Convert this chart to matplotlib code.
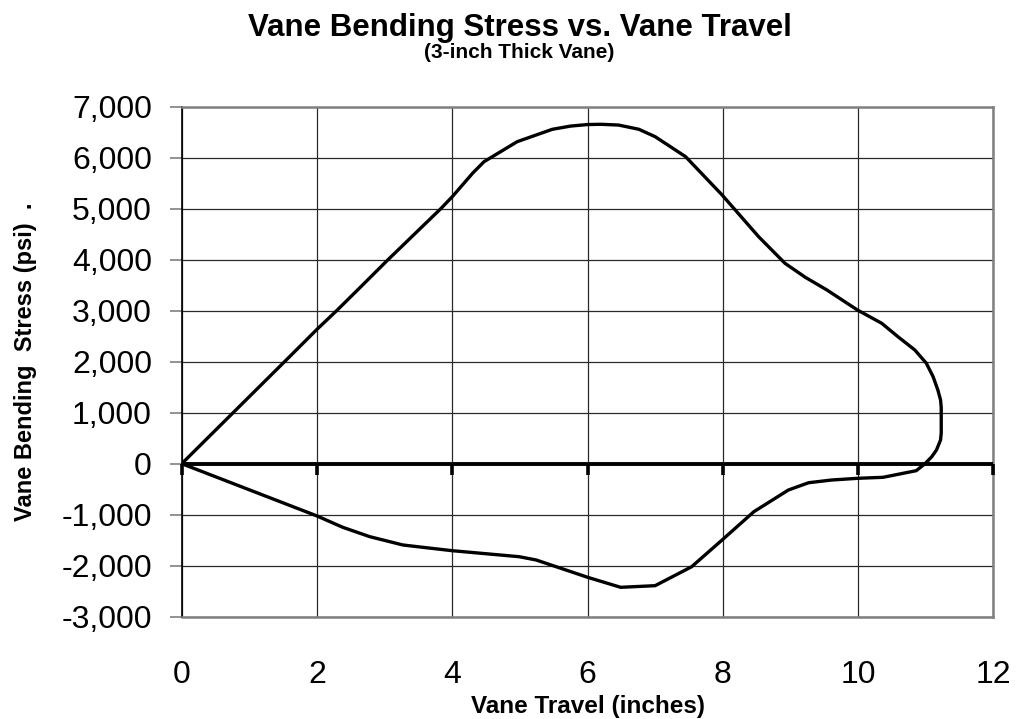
import matplotlib
matplotlib.use("Agg")
import matplotlib.pyplot as plt
from matplotlib.ticker import FuncFormatter, FixedLocator
from matplotlib.markers import TICKDOWN

plt.rcParams['font.family'] = ['Liberation Sans', 'DejaVu Sans']
plt.rcParams['axes.unicode_minus'] = False

title = "Vane Bending Stress vs. Vane Travel"
subtitle = "(3-inch Thick Vane)"
x_label = "Vane Travel (inches)"
y_label = "Vane Bending  Stress (psi)  ."

x_ticks = [0, 2, 4, 6, 8, 10, 12]
y_ticks = [-3000, -2000, -1000, 0, 1000, 2000, 3000, 4000, 5000, 6000, 7000]

# closed loop: loading branch (upper) then unloading branch (lower)
travel_in = [0.0, 0.76, 1.52, 2.0, 2.29, 2.60, 3.05, 3.83, 4.0, 4.30, 4.47, 4.96,
             5.48, 5.75, 6.0, 6.2, 6.46, 6.76, 7.0, 7.45, 7.99, 8.53, 8.92, 9.22,
             9.54, 9.99, 10.35, 10.59, 10.84, 11.01, 11.11, 11.18, 11.22, 11.23,
             11.23, 11.22, 11.16, 11.09, 10.99, 10.86, 10.37,
             9.99, 9.61, 9.27, 8.97, 8.46, 7.99, 7.54, 7.0, 6.49, 6.0, 5.24,
             4.99, 4.0, 3.56, 3.27, 2.78, 2.38, 2.0, 0.0]
stress_psi = [0, 1000, 2000, 2635, 3000, 3406, 4000, 5000, 5235, 5694, 5922, 6314,
              6557, 6620, 6650, 6655, 6640, 6557, 6412, 6020, 5269, 4451, 3929, 3655,
              3406, 3014, 2753, 2490, 2229, 1969, 1706, 1445, 1249, 1100,
              600, 465, 269, 137, 0, -137, -267,
              -287, -320, -373, -516, -941, -1496, -2020, -2392, -2424, -2227, -1888,
              -1824, -1706, -1639, -1594, -1431, -1247, -1025, 0]

fig = plt.figure(figsize=(10.17, 7.19), dpi=100)
ax = fig.add_axes([0.1787, 0.1423, 0.7980, 0.7093])

ax.set_xlim(0, 12)
ax.set_ylim(-3000, 7000)
ax.xaxis.set_major_locator(FixedLocator(x_ticks))
ax.yaxis.set_major_locator(FixedLocator(y_ticks))
ax.yaxis.set_major_formatter(FuncFormatter(lambda v, p: f"{v:,.0f}"))
ax.xaxis.set_major_formatter(FuncFormatter(lambda v, p: f"{v:.0f}"))

ax.grid(True, color='#2a2a2a', linewidth=0.9)
ax.set_axisbelow(True)

for side in ['top', 'right', 'bottom']:
    ax.spines[side].set_color('#808080')
    ax.spines[side].set_linewidth(1.8)
ax.spines['left'].set_color('#000000')
ax.spines['left'].set_linewidth(1.2)

ax.tick_params(axis='x', length=0, pad=31, labelsize=23)
ax.tick_params(axis='y', direction='out', length=8.5, width=1.2, color='#808080',
               pad=13, labelsize=23)

# zero line with downward tick marks
ax.axhline(0, color='black', linewidth=2.8, zorder=3)
ax.plot(x_ticks, [0] * len(x_ticks), linestyle='none', marker=TICKDOWN,
        markersize=8, markeredgewidth=2.6, color='black', zorder=3, clip_on=False)

ax.plot(travel_in, stress_psi, color='black', linewidth=2.4, zorder=4,
        solid_joinstyle='round', solid_capstyle='round')

ax.set_xlabel(x_label, fontsize=17.5, fontweight='bold')
ax.xaxis.set_label_coords(0.5, -0.177)
ax.xaxis.label.set_va('center')
ax.set_ylabel(y_label, fontsize=17, fontweight='bold')
ax.yaxis.set_label_coords(-0.192, 0.5)
ax.yaxis.label.set_va('center')

fig.text(0.511, 1 - 28 / 719, title, ha='center', va='center',
         fontsize=22.5, fontweight='bold')
fig.text(0.511, 1 - 53 / 719, subtitle, ha='center', va='center',
         fontsize=15, fontweight='bold')

fig.savefig("out.png", dpi=100)
